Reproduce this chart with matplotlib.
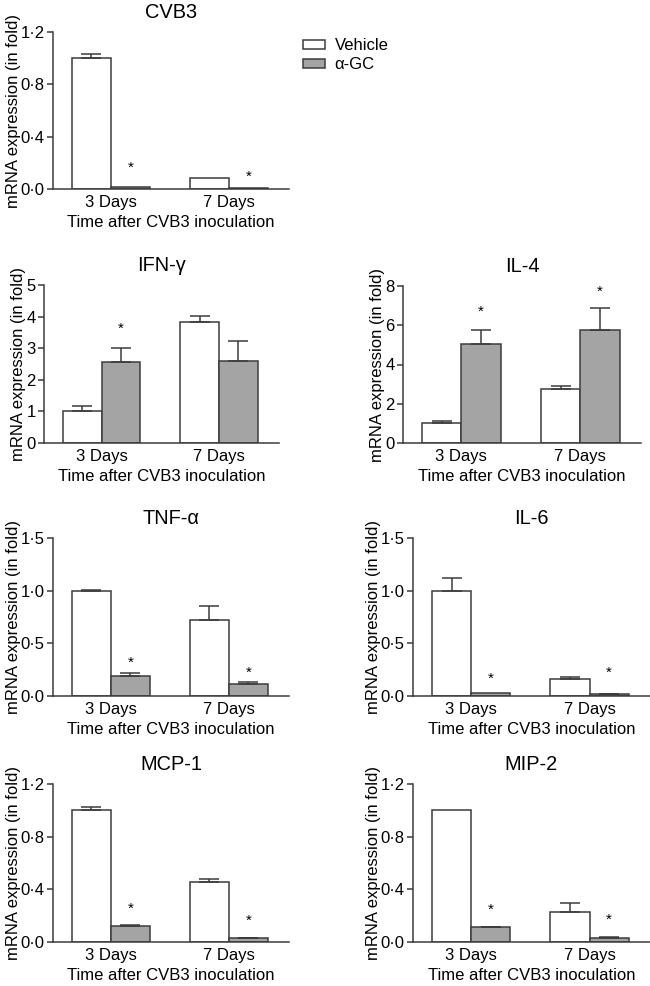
import numpy as np
import matplotlib.pyplot as plt
from matplotlib.patches import Patch

plt.rcParams['font.family'] = ['Liberation Sans', 'DejaVu Sans']
plt.rcParams['font.size'] = 12

groups = ['3 Days', '7 Days']
titles = ['CVB3', 'IFN-γ', 'IL-4', 'TNF-α', 'IL-6', 'MCP-1', 'MIP-2']

vehicle_means = [[1.00, 0.084], [1.00, 3.84], [1.00, 2.74], [1.00, 0.72],
                 [1.00, 0.165], [1.00, 0.452], [1.00, 0.227]]
vehicle_errs = [[0.03, 0.0], [0.18, 0.19], [0.10, 0.17], [0.01, 0.13],
                [0.12, 0.015], [0.025, 0.025], [0.0, 0.066]]
agc_means = [[0.013, 0.008], [2.55, 2.59], [5.02, 5.75], [0.187, 0.114],
             [0.03, 0.016], [0.119, 0.028], [0.111, 0.028]]
agc_errs = [[0.0, 0.0], [0.47, 0.63], [0.73, 1.15], [0.033, 0.022],
            [0.0, 0.004], [0.007, 0.005], [0.005, 0.007]]
# height of the significance stars above the alpha-GC bars (nan = none)
star_heights = [[0.165, 0.09], [3.6, np.nan], [6.68, 7.7], [0.32, 0.22],
                [0.16, 0.22], [0.25, 0.16], [0.245, 0.17]]

y_ticks = [[0, 0.4, 0.8, 1.2], [0, 1, 2, 3, 4, 5], [0, 2, 4, 6, 8],
           [0, 0.5, 1.0, 1.5], [0, 0.5, 1.0, 1.5],
           [0, 0.4, 0.8, 1.2], [0, 0.4, 0.8, 1.2]]
y_ticklabels = [['0·0', '0·4', '0·8', '1·2'], ['0', '1', '2', '3', '4', '5'],
                ['0', '2', '4', '6', '8'], ['0·0', '0·5', '1·0', '1·5'],
                ['0·0', '0·5', '1·0', '1·5'], ['0·0', '0·4', '0·8', '1·2'],
                ['0·0', '0·4', '0·8', '1·2']]

W, H = 650, 986
# axes boxes in pixels: left, right, top, bottom
boxes = [(53, 289, 32, 189), (44, 279, 285, 443), (403, 641, 286, 443),
         (53, 289, 538, 696), (413, 650, 538, 696),
         (53, 289, 784, 942), (413, 650, 784, 942)]

edge = '#3c3c3c'
grey = '#a4a4a4'
w = 0.33

fig = plt.figure(figsize=(W / 100, H / 100), dpi=100)

for i, (l, r, t, b) in enumerate(boxes):
    ax = fig.add_axes([l / W, 1 - b / H, (r - l) / W, (b - t) / H])
    x = np.arange(len(groups))
    xv = x - w / 2
    xa = x + w / 2
    ax.bar(xv, vehicle_means[i], w, color='white', edgecolor=edge, linewidth=1.1, zorder=2)
    ax.bar(xa, agc_means[i], w, color=grey, edgecolor=edge, linewidth=1.1, zorder=2)
    for xs, m, e in [(xv, vehicle_means[i], vehicle_errs[i]), (xa, agc_means[i], agc_errs[i])]:
        for xx, mm, ee in zip(xs, m, e):
            if ee > 0:
                ax.errorbar(xx, mm, yerr=[[0], [ee]], fmt='none', ecolor=edge,
                            elinewidth=1.1, capsize=7, capthick=1.1, zorder=3)
    for xx, s in zip(xa, star_heights[i]):
        if not np.isnan(s):
            ax.text(xx, s, '*', ha='center', va='center', fontsize=11)

    ax.set_xlim(-0.49, 1.51)
    ax.set_ylim(y_ticks[i][0], y_ticks[i][-1])
    ax.set_yticks(y_ticks[i])
    ax.set_yticklabels(y_ticklabels[i])
    ax.set_xticks(x)
    ax.set_xticklabels(groups)
    ax.tick_params(axis='x', length=0, pad=4)
    ax.tick_params(axis='y', length=4, width=1.1, color=edge, pad=2)
    for s in ['top', 'right']:
        ax.spines[s].set_visible(False)
    for s in ['left', 'bottom']:
        ax.spines[s].set_color(edge)
        ax.spines[s].set_linewidth(1.1)
    ax.set_title(titles[i], pad=10)
    ax.set_xlabel('Time after CVB3 inoculation', labelpad=4)
    ax.set_ylabel('mRNA expression (in fold)', labelpad=0)

handles = [Patch(facecolor='white', edgecolor=edge, linewidth=1.1),
           Patch(facecolor=grey, edgecolor=edge, linewidth=1.1)]
fig.legend(handles, ['Vehicle', 'α-GC'], loc='upper left',
           bbox_to_anchor=(303 / W, 1 - 38 / H), frameon=False,
           handlelength=1.3, handleheight=0.45, handletextpad=0.6,
           labelspacing=0.25, borderpad=0, borderaxespad=0)

fig.savefig('out.png', dpi=100)
